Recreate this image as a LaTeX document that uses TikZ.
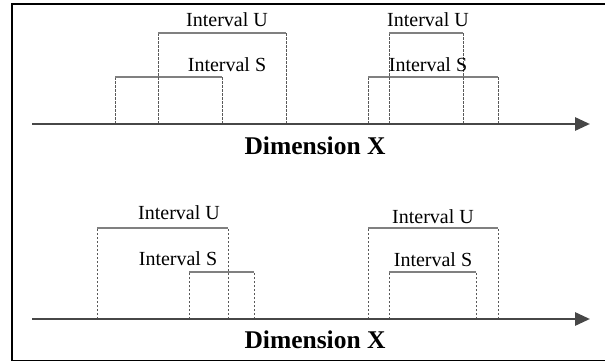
\documentclass[tikz,border=0pt]{standalone}
\usepackage{fontspec}
\setmainfont{Liberation Serif}
\usetikzlibrary{arrows.meta}
\tikzset{
  frameline/.style={line width=1.8pt, black},
  axisline/.style={line width=2.8pt, draw=black!72, -{Triangle[length=15pt,width=13pt]}},
  itop/.style={line width=1.1pt, draw=black!50},
  iside/.style={line width=0.7pt, draw=black!65, dash pattern=on 2.5pt off 1.5pt},
  lbl/.style={font=\fontsize{20}{22}\selectfont, inner sep=0pt},
  dimlbl/.style={font=\fontsize{25.5}{28}\selectfont\bfseries, inner sep=0pt}
}
\begin{document}
\begin{tikzpicture}[x=1pt,y=1pt]
\useasboundingbox (0,0) rectangle (605,362);
% frame
\draw[frameline] (620,358) -- (12,358) -- (12,1.5) -- (620,1.5);

% ---------- top panel ----------
\coordinate (a1s) at (32,238);
\coordinate (a1e) at (590,238);
% left intervals
\draw[iside] (115,238) -- (115,285);
\draw[iside] (222,238) -- (222,285);
\draw[itop] (115,285) -- (222,285);
\draw[iside] (158,238) -- (158,329);
\draw[iside] (286,238) -- (286,329);
\draw[itop] (158,329) -- (286,329);
% right intervals
\draw[iside] (368,238) -- (368,285);
\draw[iside] (498,238) -- (498,285);
\draw[itop] (368,285) -- (498,285);
\draw[iside] (389,238) -- (389,329);
\draw[iside] (463,238) -- (463,329);
\draw[itop] (389,329) -- (463,329);
\draw[axisline] (a1s) -- (a1e);
\node[lbl] (u1) at (227,342) {Interval U};
\node[lbl] (s1) at (227,297) {Interval S};
\node[lbl] (u2) at (428,342) {Interval U};
\node[lbl] (s2) at (428,297) {Interval S};
\node[dimlbl] (d1) at (315,216) {Dimension X};

% ---------- bottom panel ----------
\coordinate (a2s) at (32,43);
\coordinate (a2e) at (590,43);
\draw[iside] (97,43) -- (97,134);
\draw[iside] (228,43) -- (228,134);
\draw[itop] (97,134) -- (228,134);
\draw[iside] (189,43) -- (189,90);
\draw[iside] (254,43) -- (254,90);
\draw[itop] (189,90) -- (254,90);
\draw[iside] (368,43) -- (368,134);
\draw[iside] (498,43) -- (498,134);
\draw[itop] (368,134) -- (498,134);
\draw[iside] (389,43) -- (389,90);
\draw[iside] (476,43) -- (476,90);
\draw[itop] (389,90) -- (476,90);
\draw[axisline] (a2s) -- (a2e);
\node[lbl] (u3) at (179,149) {Interval U};
\node[lbl] (s3) at (178,103) {Interval S};
\node[lbl] (u4) at (433,145) {Interval U};
\node[lbl] (s4) at (433,102) {Interval S};
\node[dimlbl] (d2) at (315,22) {Dimension X};
\end{tikzpicture}
\end{document}
